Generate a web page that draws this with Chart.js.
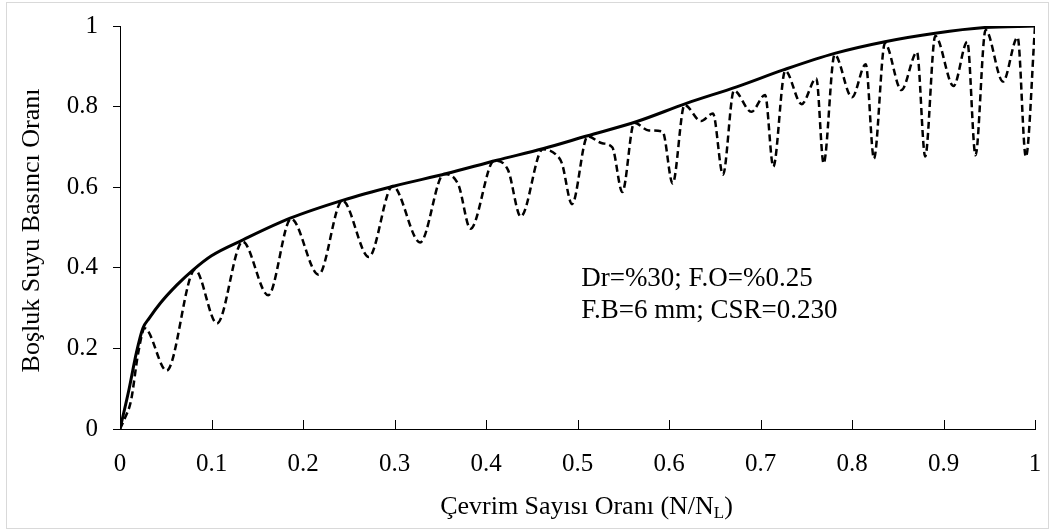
<!DOCTYPE html>
<html>
<head>
<meta charset="utf-8">
<script src="https://cdn.jsdelivr.net/npm/chart.js@4/dist/chart.umd.min.js"></script>
<style>
  body { margin: 0; background: #fff; }
  canvas { display: block; }
</style>
</head>
<body>
<canvas id="chart" width="1050" height="531"></canvas>
<script>
// envelope curve (solid)
var envX = [0, 0.01, 0.018, 0.025, 0.032, 0.044, 0.062, 0.08, 0.1, 0.135, 0.186, 0.244, 0.3, 0.357, 0.412, 0.463, 0.51, 0.565, 0.619, 0.674, 0.725, 0.781, 0.836, 0.891, 0.945, 1.0];
var envY = [0, 0.1, 0.19, 0.25, 0.275, 0.312, 0.357, 0.395, 0.43, 0.47, 0.523, 0.568, 0.603, 0.634, 0.667, 0.696, 0.727, 0.763, 0.808, 0.849, 0.891, 0.932, 0.961, 0.982, 0.996, 1.0];

// cyclic pore pressure ratio (dashed)
var cycX = [0, 0.005, 0.012, 0.02, 0.027, 0.051, 0.082, 0.106, 0.134, 0.162, 0.187, 0.217, 0.243, 0.272, 0.298, 0.328,
  0.354, 0.370, 0.383, 0.409, 0.424, 0.438, 0.462, 0.477, 0.483, 0.494,
  0.511, 0.527, 0.538, 0.549, 0.562, 0.578, 0.593, 0.604,
  0.617, 0.635, 0.648, 0.659, 0.671, 0.690, 0.705, 0.714,
  0.727, 0.745, 0.761, 0.769, 0.781, 0.800, 0.815, 0.824,
  0.836, 0.854, 0.871, 0.880, 0.891, 0.911, 0.926, 0.935,
  0.946, 0.965, 0.981, 0.990, 1.0];
var cycY = [0, 0.025, 0.07, 0.19, 0.25, 0.145, 0.395, 0.262, 0.465, 0.332, 0.522, 0.383, 0.567, 0.427, 0.603, 0.463,
  0.633, 0.605, 0.497, 0.666, 0.643, 0.527, 0.694, 0.680, 0.659, 0.558,
  0.726, 0.709, 0.699, 0.588, 0.760, 0.741, 0.738, 0.609,
  0.804, 0.764, 0.783, 0.631, 0.840, 0.787, 0.829, 0.651,
  0.889, 0.806, 0.870, 0.659, 0.929, 0.823, 0.905, 0.671,
  0.957, 0.841, 0.935, 0.676, 0.975, 0.851, 0.961, 0.679,
  0.990, 0.862, 0.972, 0.675, 0.998];

var xTicks = [0, 0.1, 0.2, 0.3, 0.4, 0.5, 0.6, 0.7, 0.8, 0.9, 1];
var yTicks = [0, 0.2, 0.4, 0.6, 0.8, 1];

var noteLines = ['Dr=%30; F.O=%0.25', 'F.B=6 mm; CSR=0.230'];
var yTitle = 'Boşluk Suyu Basıncı Oranı';
var xTitle = 'Çevrim Sayısı Oranı (N/N';
var xTitleSub = 'L';
var xTitleEnd = ')';

var FONT = "'Liberation Serif', 'Times New Roman', serif";

function pts(xs, ys) {
  var out = [];
  for (var i = 0; i < xs.length; i++) out.push({ x: xs[i], y: ys[i] });
  return out;
}

var extras = {
  id: 'extras',
  beforeDraw: function(chart) {
    var c = chart.ctx;
    c.save();
    c.fillStyle = '#fff';
    c.fillRect(0, 0, chart.width, chart.height);
    c.strokeStyle = '#d9d9d9';
    c.lineWidth = 1;
    c.strokeRect(6.5, 2.5, 1042, 526);
    c.restore();
  },
  afterDraw: function(chart) {
    var c = chart.ctx;
    var xs = chart.scales.x, ys = chart.scales.y;
    var area = chart.chartArea;
    c.save();
    // inward ticks on x axis
    c.strokeStyle = '#000';
    c.lineWidth = 1;
    xTicks.forEach(function(v) {
      var px = Math.round(xs.getPixelForValue(v)) + 0.5;
      c.beginPath();
      c.moveTo(px, area.bottom);
      c.lineTo(px, area.bottom - 9);
      c.stroke();
    });
    // note
    c.fillStyle = '#000';
    c.font = '27px ' + FONT;
    c.textBaseline = 'middle';
    c.textAlign = 'left';
    c.fillText(noteLines[0], xs.getPixelForValue(0.504), ys.getPixelForValue(0.372));
    c.fillText(noteLines[1], xs.getPixelForValue(0.504), ys.getPixelForValue(0.293));
    // x title with subscript
    var cx = (area.left + area.right) / 2 + 9;
    c.font = '26px ' + FONT;
    var w1 = c.measureText(xTitle).width;
    c.font = '17px ' + FONT;
    var w2 = c.measureText(xTitleSub).width;
    c.font = '26px ' + FONT;
    var w3 = c.measureText(xTitleEnd).width;
    var x0 = cx - (w1 + w2 + w3) / 2;
    var ty = 507;
    c.fillText(xTitle, x0, ty);
    c.font = '17px ' + FONT;
    c.fillText(xTitleSub, x0 + w1, ty + 7);
    c.font = '26px ' + FONT;
    c.fillText(xTitleEnd, x0 + w1 + w2, ty);
    // y title
    c.translate(32, (area.top + area.bottom) / 2 + 3);
    c.rotate(-Math.PI / 2);
    c.textAlign = 'center';
    c.fillText(yTitle, 0, 0);
    c.restore();
  }
};

new Chart(document.getElementById('chart'), {
  type: 'line',
  data: {
    datasets: [
      {
        data: pts(envX, envY),
        borderColor: '#000',
        borderWidth: 3,
        pointRadius: 0,
        cubicInterpolationMode: 'monotone',
        fill: false
      },
      {
        data: pts(cycX, cycY),
        borderColor: '#000',
        borderWidth: 2.5,
        borderDash: [7, 4],
        pointRadius: 0,
        cubicInterpolationMode: 'monotone',
        fill: false
      }
    ]
  },
  options: {
    responsive: false,
    animation: false,
    devicePixelRatio: 1,
    layout: { padding: { top: 26, right: 15, left: 0, bottom: 0 } },
    plugins: { legend: { display: false }, tooltip: { enabled: false } },
    scales: {
      x: {
        type: 'linear',
        min: 0,
        max: 1,
        afterBuildTicks: function(s) { s.ticks = xTicks.map(function(v) { return { value: v }; }); },
        afterFit: function(s) { s.height = 102; s.paddingLeft = 0; s.paddingRight = 0; },
        border: { color: '#000', width: 1 },
        grid: { display: true, drawOnChartArea: false, drawTicks: false },
        ticks: {
          color: '#000',
          padding: 20,
          maxRotation: 0,
          font: { family: FONT, size: 25 },
          callback: function(v) { return String(Number(v.toFixed(1))); }
        }
      },
      y: {
        type: 'linear',
        min: 0,
        max: 1,
        afterBuildTicks: function(s) { s.ticks = yTicks.map(function(v) { return { value: v }; }); },
        afterFit: function(s) { s.width = 120; s.paddingTop = 0; s.paddingBottom = 0; },
        border: { color: '#000', width: 1 },
        grid: { display: true, drawOnChartArea: false, drawTicks: true, tickLength: 7, color: '#000' },
        ticks: {
          color: '#000',
          padding: 15,
          font: { family: FONT, size: 25 },
          callback: function(v) { return String(Number(v.toFixed(1))); }
        }
      }
    }
  },
  plugins: [extras]
});
</script>
</body>
</html>
